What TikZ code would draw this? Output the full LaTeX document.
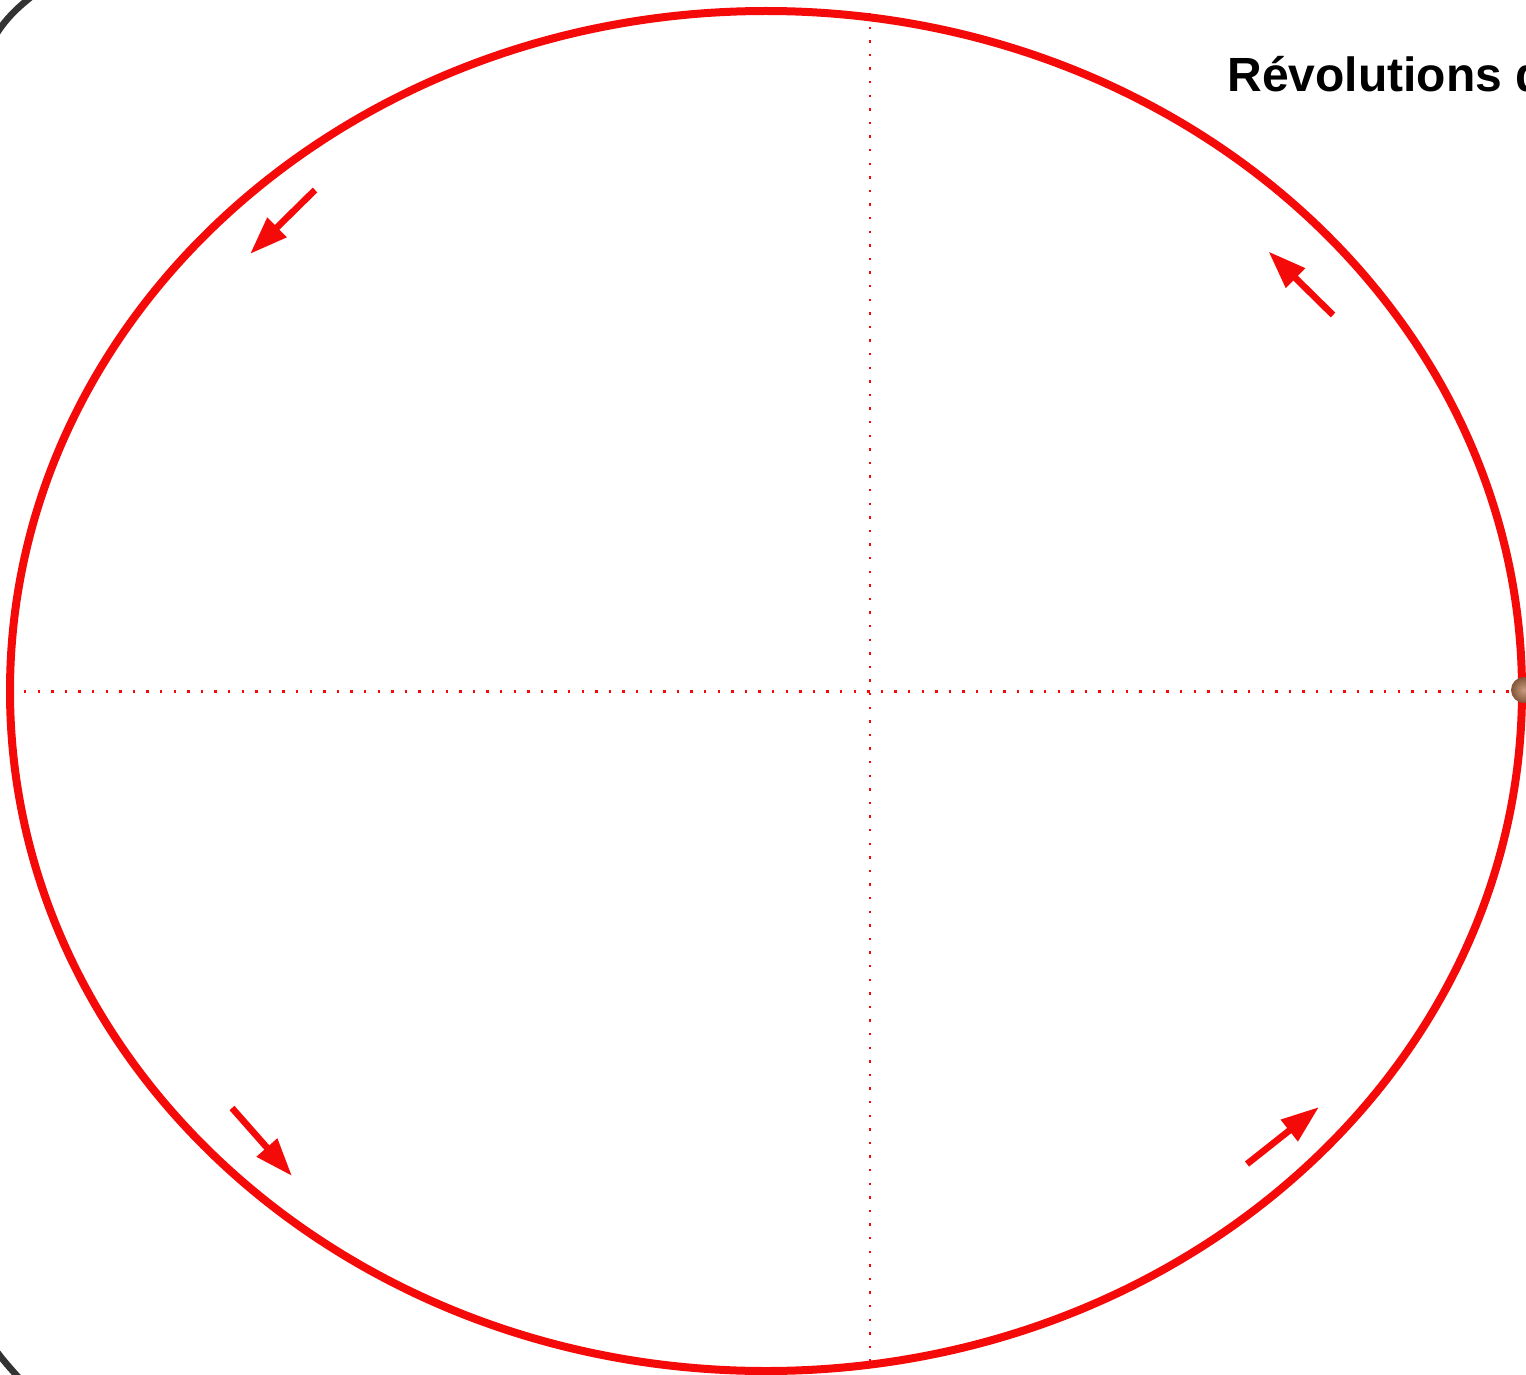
\documentclass[tikz,border=0pt]{standalone}
\usepackage{fontspec}
\setmainfont{Liberation Sans}
\usetikzlibrary{arrows.meta}
\definecolor{orbitred}{HTML}{F50A0A}
\definecolor{framegray}{HTML}{333333}
\definecolor{marsbrown}{HTML}{B0714A}
\tikzset{
  orbit/.style={draw=orbitred,line width=4pt},
  axisline/.style={draw=orbitred,line width=1.2pt,dash pattern=on 1.2pt off 5.6pt},
  motion/.style={draw=orbitred,line width=3.3pt,-{Triangle[length=19pt,width=13pt,fill=orbitred]}},
  titletext/.style={font=\bfseries\fontsize{24pt}{28pt}\selectfont,anchor=base west,inner sep=0pt,text=black},
  planet/.style={circle,minimum size=13pt,inner sep=0pt,inner color=marsbrown!70!white,outer color=marsbrown!75!black,draw=none}
}
\begin{document}
\begin{tikzpicture}[x=0.5pt,y=-0.5pt]
\useasboundingbox (0,0) rectangle (1526,1375);
\clip (0,0) rectangle (1526,1375);
% frame
\draw[framegray,line width=3.3pt] (-3,33) .. controls (6,19) and (16,9) .. (31,-3);
\draw[framegray,line width=3.3pt] (-3,1352) .. controls (3,1360) and (10,1368) .. (19,1378);
% orbit
\draw[orbit] (766,691) ellipse [x radius=756,y radius=680];
% axes
\coordinate (vt) at (870,13);
\coordinate (vb) at (870,1363);
\coordinate (hl) at (24,691.5);
\coordinate (hr) at (1510,691.5);
\draw[axisline] (vt) -- (vb);
\draw[axisline] (hl) -- (hr);
% arrows
\coordinate (a1s) at (315,190); \coordinate (a1e) at (250,254);
\coordinate (a2s) at (1333,315); \coordinate (a2e) at (1268.5,251.5);
\coordinate (a3s) at (232,1108); \coordinate (a3e) at (292,1176);
\coordinate (a4s) at (1247,1164); \coordinate (a4e) at (1319,1107);
\draw[motion] (a1s) -- (a1e);
\draw[motion] (a2s) -- (a2e);
\draw[motion] (a3s) -- (a3e);
\draw[motion] (a4s) -- (a4e);
% planet
\node[planet] (mars) at (1524,690) {};
% title
\node[titletext] (title) at (1227,92) {Révolutions de};
\end{tikzpicture}
\end{document}
